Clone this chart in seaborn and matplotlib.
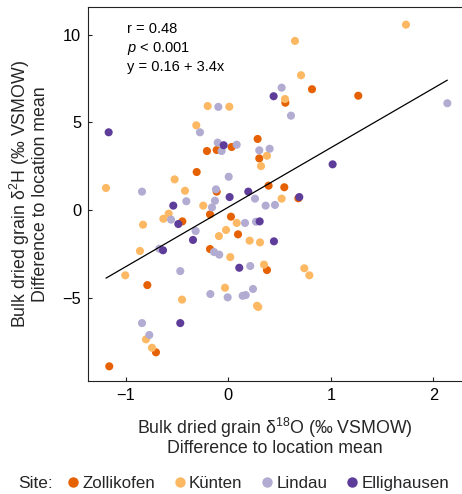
import numpy as np
import pandas as pd
import matplotlib
matplotlib.use("Agg")
import matplotlib.pyplot as plt
from matplotlib.lines import Line2D
import seaborn as sns

# Oxygen (x) and hydrogen (y) isotope deviations from each location's mean
zollikofen_x = [0.816, 1.267, 0.556, 0.286, 0.033, -0.208, -0.113, 0.302, -0.308, -0.113,
                0.393, 0.546, 0.683, -0.448, -0.178, 0.026, 0.095, -0.178, 0.377, -0.789,
                -0.705, -1.160]
zollikofen_y = [6.90, 6.53, 6.13, 4.06, 3.60, 3.37, 3.43, 2.95, 2.17, 1.05,
                1.39, 1.30, 0.67, -0.65, -0.25, -0.38, -1.39, -2.23, -3.43, -4.29,
                -8.13, -8.93]

kuenten_x = [1.732, 0.650, 0.709, 0.553, -0.201, 0.010, -0.312, 0.377, 0.319, -0.523,
             -1.192, -0.422, 0.520, -0.244, -0.581, -0.633, -0.831, 0.082, -0.022, -0.091,
             0.208, 0.309, -0.861, 0.019, -1.004, 0.348, 0.741, 0.790, -0.032, -0.451,
             0.280, 0.292, -0.802, -0.744]
kuenten_y = [10.59, 9.66, 7.70, 6.34, 5.94, 5.90, 4.84, 3.10, 2.51, 1.75,
             1.26, 1.10, 0.65, 0.25, -0.21, -0.50, -0.84, -0.74, -1.14, -1.49,
             -1.75, -1.85, -2.34, -2.69, -3.73, -3.12, -3.33, -3.73, -4.44, -5.12,
             -5.47, -5.54, -7.39, -7.87]

lindau_x = [2.135, 0.520, 0.611, -0.097, -0.276, -0.103, 0.082, -0.065, 0.302, 0.403,
            0.004, -0.841, -0.120, 0.260, -0.409, -0.130, -0.159, 0.364, 0.455, -0.558,
            0.163, 0.270, -0.318, -0.672, -0.139, -0.088, -0.468, 0.214, -0.175, -0.006,
            0.140, 0.170, 0.241, -0.841, -0.770]
lindau_y = [6.10, 6.99, 5.39, 5.89, 4.44, 3.85, 3.73, 3.37, 3.41, 3.50,
            1.90, 1.05, 1.18, 0.65, 0.50, 0.53, 0.15, 0.25, 0.29, -0.55,
            -0.74, -0.67, -1.20, -2.21, -2.40, -2.55, -3.49, -3.20, -4.80, -4.99,
            -4.90, -4.86, -4.51, -6.46, -7.14]

ellighausen_x = [0.442, -1.166, -0.045, 1.017, 0.195, 0.013, 0.692, -0.536, -0.487, 0.306,
                 -0.344, 0.445, -0.636, 0.107, -0.468]
ellighausen_y = [6.50, 4.44, 3.70, 2.61, 1.05, 0.74, 0.74, 0.25, -0.80, -0.65,
                 -1.71, -1.79, -2.30, -3.30, -6.46]

sites = ["Zollikofen", "Künten", "Lindau", "Ellighausen"]
site_colors = ["#E66101", "#FDB863", "#B2ABD2", "#5E3C99"]

# Fitted relationship reported in the panel
fit_intercept = 0.16
fit_slope = 3.4
stats_lines = ["r = 0.48", "$p$ < 0.001", "y = 0.16 + 3.4x"]

x_ticks = [-1, 0, 1, 2]
y_ticks = [-5, 0, 5, 10]

df = pd.concat([
    pd.DataFrame({"d18O": zollikofen_x, "d2H": zollikofen_y, "Site": "Zollikofen"}),
    pd.DataFrame({"d18O": kuenten_x, "d2H": kuenten_y, "Site": "Künten"}),
    pd.DataFrame({"d18O": lindau_x, "d2H": lindau_y, "Site": "Lindau"}),
    pd.DataFrame({"d18O": ellighausen_x, "d2H": ellighausen_y, "Site": "Ellighausen"}),
], ignore_index=True)

sns.set_theme(style="white")
plt.rcParams["font.family"] = ["Liberation Sans", "DejaVu Sans"]
plt.rcParams["mathtext.fontset"] = "custom"
plt.rcParams["mathtext.rm"] = "Liberation Sans"
plt.rcParams["mathtext.it"] = "Liberation Sans:italic"
plt.rcParams["mathtext.bf"] = "Liberation Sans:bold"

fig = plt.figure(figsize=(4.62, 4.94), dpi=100)
ax = fig.add_axes([0.191, 0.2287, 0.809, 0.7565])

sns.scatterplot(data=df, x="d18O", y="d2H", hue="Site", hue_order=sites,
                palette=site_colors, s=34, linewidth=0, alpha=1.0,
                legend=False, ax=ax, zorder=3)

xfit = np.array([df["d18O"].min(), df["d18O"].max()])
ax.plot(xfit, fit_intercept + fit_slope * xfit, color="black", lw=0.9, zorder=4)

for i, line in enumerate(stats_lines):
    ax.text(0.105, 0.941 - i * 0.051, line, transform=ax.transAxes,
            fontsize=10.5, va="center", ha="left", color="black")

ax.set_xlim(-1.365, 2.278)
ax.set_ylim(-9.77, 11.58)
ax.set_xticks(x_ticks)
ax.set_yticks(y_ticks)
ax.tick_params(direction="in", length=3, width=0.8, labelsize=11.8, pad=5,
               colors="#222222", labelcolor="black", left=True, bottom=True)
for side in ["left", "bottom", "top"]:
    ax.spines[side].set_color("#222222")
    ax.spines[side].set_linewidth(0.8)
ax.spines["right"].set_visible(False)

ax.set_xlabel("Bulk dried grain δ$^{18}$O (‰ VSMOW)\nDifference to location mean",
              fontsize=12.8, labelpad=9, linespacing=1.05)
ax.set_ylabel("Bulk dried grain δ$^{2}$H (‰ VSMOW)\nDifference to location mean",
              fontsize=12.8, labelpad=10, linespacing=0.98)

handles = [Line2D([0], [0], marker="o", linestyle="", markersize=7.5,
                  markerfacecolor=c, markeredgewidth=0) for c in site_colors]
fig.legend(handles, sites, loc="center left", bbox_to_anchor=(0.14, 0.022),
           ncol=4, frameon=False, fontsize=12.2, handletextpad=0.05,
           columnspacing=0.95, handlelength=1.0, borderaxespad=0, borderpad=0)
fig.text(0.04, 0.022, "Site:", fontsize=12.5, va="center", ha="left")

fig.savefig("out.png", dpi=100)
